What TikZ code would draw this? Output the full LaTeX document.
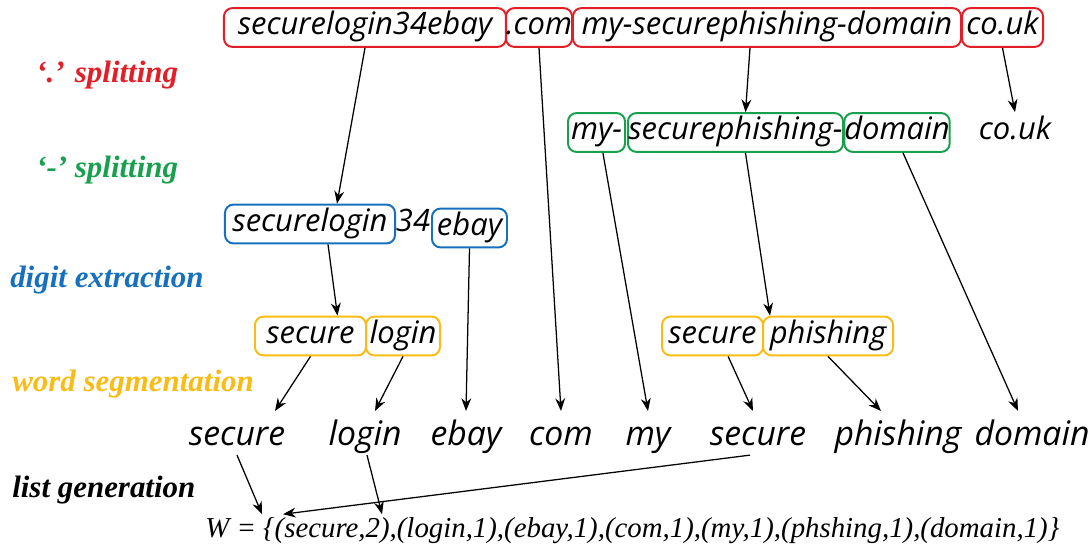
\documentclass[tikz,border=0pt]{standalone}
\usepackage{fontspec}
\setmainfont{Liberation Serif}
\newfontfamily\handfont{Open Sans}
\usepackage{xcolor}
\usepackage{tikz}
\usetikzlibrary{positioning,arrows.meta}
\definecolor{dotred}{RGB}{226,30,38}
\definecolor{dashgreen}{RGB}{24,160,78}
\definecolor{digblue}{RGB}{22,112,190}
\definecolor{segyellow}{RGB}{250,188,20}
\tikzset{part/.style={rounded corners=6pt,line width=1.4pt,inner sep=0pt,text height=15pt,text depth=5pt,minimum height=0.97cm,font=\handfont\itshape\fontsize{22}{26}\selectfont},
  dotbox/.style={part,draw=dotred},
  dashbox/.style={part,draw=dashgreen},
  digbox/.style={part,draw=digblue},
  segbox/.style={part,draw=segyellow},
  word/.style={anchor=base,inner sep=2pt,text height=22pt,text depth=5pt,font=\handfont\itshape\fontsize{24}{28}\selectfont},
  stage/.style={anchor=west,inner sep=0pt,font=\bfseries\itshape\fontsize{22}{26}\selectfont}}

\begin{document}
\begin{tikzpicture}[>={Stealth[length=9pt,width=7pt]},x=0.025cm,y=-0.025cm]
    \useasboundingbox (0,0) rectangle (1088,559);

    % stage labels
    \node[stage,text=dotred] (l1) at (36,75) {`.' splitting};
    \node[stage,text=dashgreen] (l2) at (36,170) {`-' splitting};
    \node[stage,text=digblue] (l3) at (10,280) {digit extraction};
    \node[stage,text=segyellow] (l4) at (12,384) {word segmentation};
    \node[stage] (l5) at (12,490) {list generation};

    % '.' splitting
    \node[dotbox,minimum width=7.05cm] (d1) at (365,27.5) {securelogin34ebay};
    \node[dotbox,minimum width=1.65cm] (d2) at (539,27.5) {.com};
    \node[dotbox,minimum width=9.7cm] (d3) at (767,27.5) {my-securephishing-domain};
    \node[dotbox,minimum width=2.025cm] (d4) at (1002.5,27.5) {co.uk};

    % '-' splitting
    \node[dashbox,minimum width=1.425cm] (h1) at (596.5,132.5) {my-};
    \node[dashbox,minimum width=5.375cm] (h2) at (735.5,132.5) {securephishing-};
    \node[dashbox,minimum width=2.5cm] (h3) at (897,132.5) {domain};
    \node[part] (h4) at (1015,132.5) {co.uk};

    % digit extraction
    \node[digbox,minimum width=4.25cm] (g1) at (310,224) {securelogin};
    \node[part] (g2) at (413,224) {34};
    \node[digbox,minimum width=1.875cm] (g3) at (469.5,228) {ebay};

    % word segmentation
    \node[segbox,minimum width=2.775cm] (s1) at (310.5,336) {secure};
    \node[segbox,minimum width=1.85cm] (s2) at (403,336) {login};
    \node[segbox,minimum width=2.525cm] (s3) at (712.5,336) {secure};
    \node[segbox,minimum width=3.25cm] (s4) at (828,336) {phishing};

    % words
    \node[word] (w1) at (237,445) {secure};
    \node[word] (w2) at (365,445) {login};
    \node[word] (w3) at (466,445) {ebay};
    \node[word] (w4) at (561,445) {com};
    \node[word] (w5) at (648,445) {my};
    \node[word] (w6) at (758,445) {secure};
    \node[word] (w7) at (898,445) {phishing};
    \node[word] (w8) at (1032,445) {domain};

    % list
    \node[anchor=base west,inner sep=0pt,text height=16pt,font=\itshape\fontsize{20.5}{24}\selectfont] (lst) at (205,537) {W = \{(secure,2),(login,1),(ebay,1),(com,1),(my,1),(phshing,1),(domain,1)\}};

    \begin{scope}[line width=0.9pt]
    \draw [->] (d1.south) to [] ([xshift=0.675cm]g1.north);
    \draw [->] (d2.south) to [] (w4.north);
    \draw [->] ([xshift=-0.425cm]d3.south) to [] ([xshift=0.25cm]h2.north);
    \draw [->] (d4.south) to [] (h4.north);
    \draw [->] ([xshift=0.16cm]h1.south) to [] (w5.north);
    \draw [->] ([xshift=0.25cm]h2.south) to [] ([xshift=0.2cm]s4.north west);
    \draw [->] ([xshift=0.15cm]h3.south) to [] ([xshift=-0.35cm]w8.north);
    \draw [->] ([xshift=0.45cm]g1.south) to [] ([xshift=0.675cm]s1.north);
    \draw [->] (g3.south) to [] (w3.north);
    \draw [->] (s1.south) to [] ([xshift=0.95cm]w1.north);
    \draw [->] (s2.south) to [] ([xshift=0.25cm]w2.north);
    \draw [->] ([xshift=0.39cm]s3.south) to [] ([xshift=-0.125cm]w6.north);
    \draw [->] (s4.south) to [] ([xshift=-0.425cm]w7.north);
    \draw [->] (w1.south) to [] ([xshift=1.425cm]lst.north west);
    \draw [->] ([xshift=0.05cm]w2.south) to [] ([xshift=4.425cm]lst.north west);
    \draw [->] ([xshift=-0.2cm]w6.south) to [] ([xshift=1.95cm]lst.north west);
    \end{scope}
\end{tikzpicture}
\end{document}
